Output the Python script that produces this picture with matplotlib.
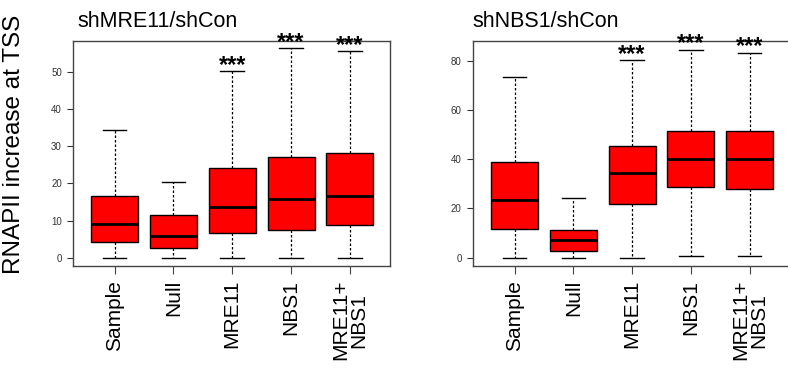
import matplotlib
matplotlib.use("Agg")
import matplotlib.pyplot as plt

plt.rcParams["font.family"] = ["Liberation Sans", "DejaVu Sans"]

groups = ["Sample", "Null", "MRE11", "NBS1", "MRE11+\nNBS1"]
stars = ["", "", "***", "***", "***"]

# box statistics per group: lower whisker, q1, median, q3, upper whisker
mre11_low = [0, 0, 0, 0, 0]
mre11_q1 = [4.2, 2.6, 6.8, 7.5, 8.7]
mre11_med = [9.2, 6.0, 13.7, 15.7, 16.5]
mre11_q3 = [16.6, 11.5, 24.2, 27.2, 28.1]
mre11_high = [34.5, 20.5, 50.2, 56.4, 55.6]

nbs1_low = [0, 0, 0, 0.5, 0.5]
nbs1_q1 = [11.6, 2.7, 21.9, 28.8, 27.8]
nbs1_med = [23.5, 7.1, 34.4, 40.1, 40.1]
nbs1_q3 = [39.0, 11.2, 45.4, 51.5, 51.5]
nbs1_high = [73.5, 24.1, 80.3, 84.6, 83.4]


def make_stats(low, q1, med, q3, high):
    return [
        dict(whislo=a, q1=b, med=c, q3=d, whishi=e, fliers=[])
        for a, b, c, d, e in zip(low, q1, med, q3, high)
    ]


panels = [
    ("shMRE11/shCon", make_stats(mre11_low, mre11_q1, mre11_med, mre11_q3, mre11_high),
     mre11_high, (-2.2, 58.3), [0, 10, 20, 30, 40, 50]),
    ("shNBS1/shCon", make_stats(nbs1_low, nbs1_q1, nbs1_med, nbs1_q3, nbs1_high),
     nbs1_high, (-3.4, 88.1), [0, 20, 40, 60, 80]),
]

fig = plt.figure(figsize=(7.88, 3.69), dpi=100)
axes_rects = [[0.0926, 0.279, 0.402, 0.610], [0.600, 0.279, 0.402, 0.610]]

positions = [1, 2, 3, 4, 5]
for rect, (title, stats, tops, ylim, yticks) in zip(axes_rects, panels):
    ax = fig.add_axes(rect)
    ax.bxp(
        stats,
        positions=positions,
        widths=0.8,
        capwidths=0.4,
        showfliers=False,
        patch_artist=True,
        boxprops=dict(facecolor="#ff0000", edgecolor="black", linewidth=1.0),
        medianprops=dict(color="black", linewidth=2.0),
        whiskerprops=dict(color="black", linewidth=0.9, linestyle=(0, (2, 1.6))),
        capprops=dict(color="black", linewidth=1.0),
    )
    for x, top, s in zip(positions, tops, stars):
        if s:
            ax.annotate(s, (x, top), xytext=(0, -4), textcoords="offset points",
                        ha="center", va="bottom", fontsize=17, fontweight="bold",
                        annotation_clip=False)
    ax.set_xlim(0.29, 5.68)
    ax.set_ylim(*ylim)
    ax.set_yticks(yticks)
    ax.set_xticks(positions)
    ax.set_xticklabels(groups, rotation=90, fontsize=15, linespacing=0.9)
    ax.tick_params(axis="y", labelsize=7, colors="#333333", length=4, width=0.8, pad=4)
    ax.tick_params(axis="x", length=6, width=0.8, color="#444444", pad=4)
    for sp in ax.spines.values():
        sp.set_color("#444444")
        sp.set_linewidth(1.0)
    ax.text(0.015 if title.startswith("shMRE") else 0.0, 1.04, title,
            transform=ax.transAxes, ha="left", va="bottom", fontsize=15.5)

fig.text(14 / 788, 0.61, "RNAPII increase at TSS", rotation=90,
         ha="center", va="center", fontsize=17.5)

fig.savefig("out.png", dpi=100)
